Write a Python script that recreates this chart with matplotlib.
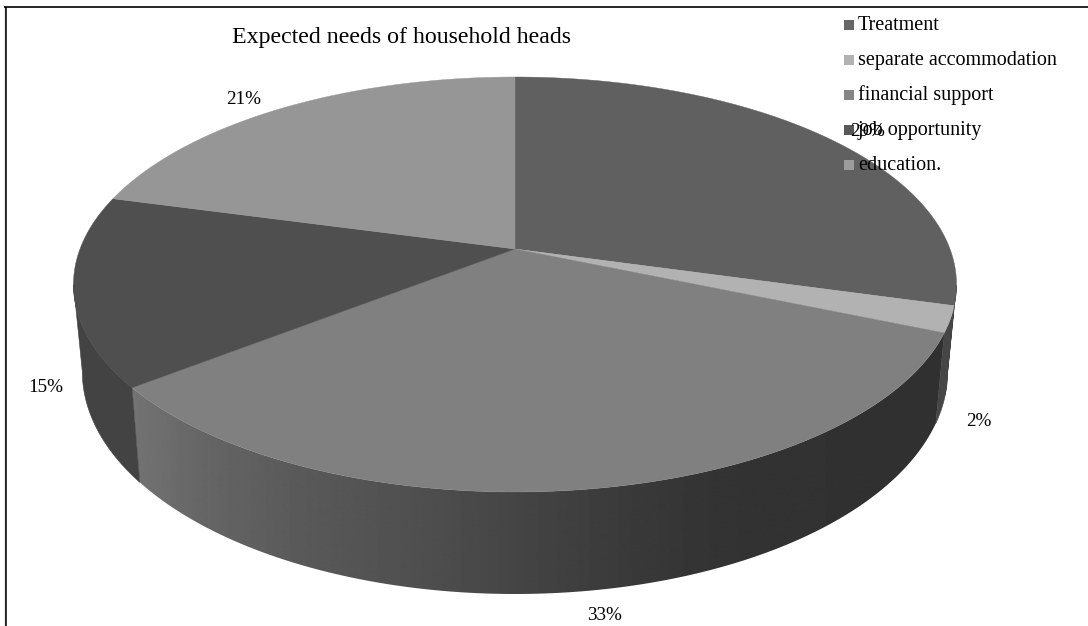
import numpy as np
import matplotlib
matplotlib.use("Agg")
import matplotlib.pyplot as plt
from matplotlib.patches import Polygon, Rectangle

categories = ["Treatment", "separate accommodation", "financial support",
              "job opportunity", "education."]
shares = [29, 2, 33, 15, 21]
share_labels = ["29%", "2%", "33%", "15%", "21%"]
chart_title = "Expected needs of household heads"

top_colors = ["#606060", "#b2b2b2", "#808080", "#4f4f4f", "#969696"]
legend_colors = ["#666666", "#b2b2b2", "#858585", "#585858", "#9c9c9c"]
wall_colors = ["#3a3a3a", "#464646", None, "#434343", "#4a4a4a"]
label_xy = [(868, 132), (979, 422), (605, 616), (46, 388), (244, 99)]

W, H = 1088, 626
CX, CY = 515.0, 249.0     # where the slices meet on the tilted disc
RX, RY = 435.0, 201.4     # disc radii before perspective
K = 0.171                 # perspective strength
DEPTH = 84.6              # disc thickness
SHRINK = 0.98             # lower rim is slightly narrower
SKEW = np.radians(1.9)    # small angular drift caused by the viewing angle


def rim(theta, lower=False):
    """Project clockwise-from-north angles (radians) onto the screen."""
    t = theta + SKEW * (1 - np.cos(theta)) / 2
    u, v = np.sin(t), np.cos(t)
    w = 1 + K * v
    x = RX * u / w
    y = CY - RY * v / w
    if lower:
        return CX + SHRINK * x, y + DEPTH / w
    return CX + x, y


def wall_outline(start, stop):
    arc = np.linspace(start, stop, 200)
    xt, yt = rim(arc)
    xb, yb = rim(arc, lower=True)
    return np.column_stack([np.r_[xt, xb[::-1]], np.r_[yt, yb[::-1]]])


fig = plt.figure(figsize=(W / 100, H / 100), dpi=100)
ax = fig.add_axes([0, 0, 1, 1])

edges = np.radians(np.cumsum([0] + shares) * 3.6)

# Side wall: only the front arc is visible, between the two silhouette tangents
for i, color in enumerate(wall_colors):
    lo, hi = max(edges[i], np.radians(99)), min(edges[i + 1], np.radians(259))
    if lo >= hi:
        continue
    wall = Polygon(wall_outline(lo, hi), closed=True, zorder=2)
    if color is not None:
        wall.set(fc=color, ec=color, lw=0.4)
        ax.add_patch(wall)
    else:
        # The largest slice carries a left-to-right shading
        wall.set(fc="none", ec="none")
        ax.add_patch(wall)
        columns = np.arange(100, 980)
        shade = np.interp(columns, [135, 200, 300, 420, 515, 620, 720, 945],
                          [0.45, 0.40, 0.35, 0.31, 0.27, 0.23, 0.20, 0.19])
        img = ax.imshow(shade[None, :], cmap="gray", vmin=0, vmax=1, aspect="auto",
                        extent=(columns[0], columns[-1], 620, 300),
                        interpolation="bilinear", zorder=2)
        img.set_clip_path(wall)

ax.set_xlim(0, W)
ax.set_ylim(H, 0)
ax.axis("off")

# Top face
for i, color in enumerate(top_colors):
    arc = np.linspace(edges[i], edges[i + 1], 200)
    xs, ys = rim(arc)
    ax.add_patch(Polygon(np.column_stack([np.r_[CX, xs], np.r_[CY, ys]]),
                         closed=True, fc=color, ec=color, lw=0.3, zorder=3))

serif = "Liberation Serif"
ax.text(402, 38, chart_title, family=serif, fontsize=17.2, ha="center", va="center",
        color="black", zorder=6)

# Legend
for i, (name, color) in enumerate(zip(categories, legend_colors)):
    y = 25 + i * 35
    ax.add_patch(Rectangle((844, y - 5), 10, 10, fc=color, ec="none", zorder=5))
    ax.text(858, y + 0.5, name, family=serif, fontsize=14.5, ha="left", va="center",
            color="black", zorder=6)

# Percentage labels
for text, (x, y) in zip(share_labels, label_xy):
    ax.text(x, y, text, family=serif, fontsize=13.8, ha="center", va="center",
            color="black", zorder=7)

# Frame lines along the left and top edges
ax.plot([4.8, 4.8], [626, 7], color="#9a9a9a", lw=1.0, zorder=8, solid_capstyle="butt")
ax.plot([6, 6], [626, 7], color="black", lw=1.1, zorder=8, solid_capstyle="butt")
ax.plot([4, 1088], [7.3, 7.3], color="black", lw=1.2, zorder=8, solid_capstyle="butt")

fig.savefig("out.png", dpi=100, facecolor="white")
